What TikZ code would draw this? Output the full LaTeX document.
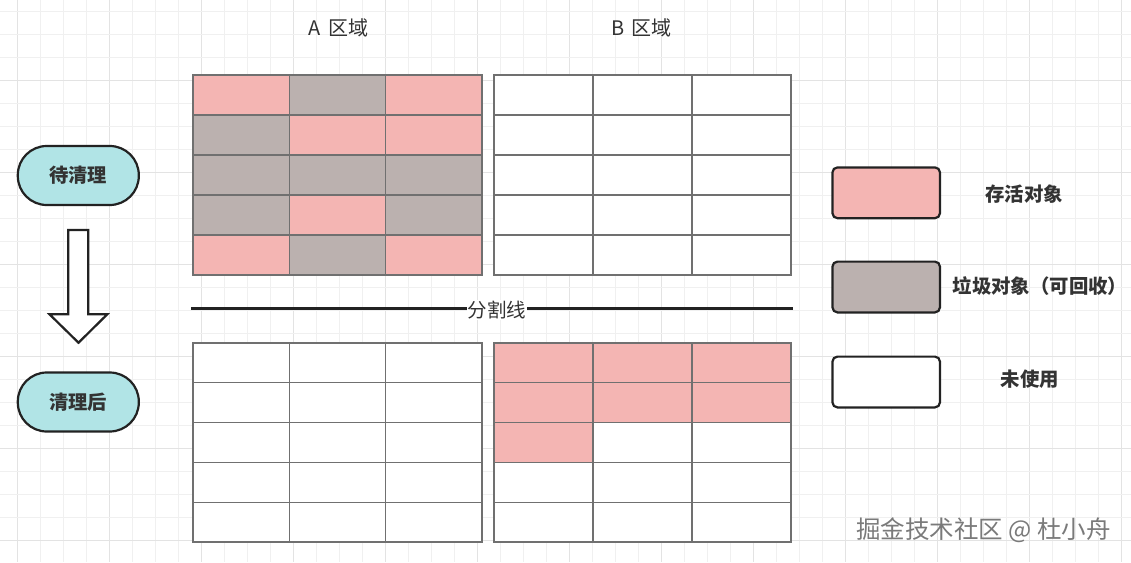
\documentclass[tikz,border=0pt]{standalone}
\usepackage{fontspec}
\newfontfamily\cjk{Noto Sans CJK SC}
\definecolor{P}{HTML}{F4B5B3}
\definecolor{G}{HTML}{BBB1AF}
\definecolor{W}{HTML}{FFFFFF}
\definecolor{cellline}{HTML}{707070}
\definecolor{dark}{HTML}{222222}
\definecolor{teal}{HTML}{B1E4E6}
\definecolor{txt}{HTML}{333333}
\definecolor{gridminor}{HTML}{F0F0F0}
\definecolor{gridmajor}{HTML}{E3E3E3}
\tikzset{
  cellA/.style={draw=cellline, line width=1.3pt, minimum width=96.33pt, minimum height=40pt, inner sep=0pt, outer sep=0pt},
  cellB/.style={draw=cellline, line width=1.3pt, minimum width=99pt, minimum height=40pt, inner sep=0pt, outer sep=0pt},
  cellAb/.style={cellA, minimum height=39.8pt},
  cellBb/.style={cellB, minimum height=39.8pt},
  pill/.style={draw=dark, line width=2.2pt, fill=teal, rounded corners=29pt, minimum width=121pt, minimum height=59pt, font=\cjk\bfseries\fontsize{19.3pt}{21pt}\selectfont, text=txt},
  legbox/.style={draw=dark, line width=2.2pt, rounded corners=5pt, minimum width=107.5pt, minimum height=50.8pt, inner sep=0pt},
  legtext/.style={font=\cjk\bfseries\fontsize{19.4pt}{21pt}\selectfont, text=txt},
  title/.style={font=\cjk\fontsize{20pt}{22pt}\selectfont, text=txt},
  blockarrow/.style={draw=dark, line width=2.2pt, fill=white, line join=miter},
}
\begin{document}
\begin{tikzpicture}[x=1pt,y=-1pt]
\useasboundingbox (0,0) rectangle (1131,562);
\fill[white] (0,0) rectangle (1131,562);
% background grid
\foreach \i in {0,...,48} {
  \pgfmathsetmacro{\xx}{17.3+23*\i}
  \pgfmathtruncatemacro{\m}{mod(\i,4)}
  \ifnum\m=0 \draw[gridmajor, line width=0.9pt] (\xx,0) -- (\xx,562);
  \else \draw[gridminor, line width=0.9pt] (\xx,0) -- (\xx,562); \fi
}
\foreach \i in {0,...,24} {
  \pgfmathsetmacro{\yy}{11.7+23*\i}
  \pgfmathtruncatemacro{\m}{mod(\i+1,4)}
  \ifnum\m=0 \draw[gridmajor, line width=0.9pt] (0,\yy) -- (1131,\yy);
  \else \draw[gridminor, line width=0.9pt] (0,\yy) -- (1131,\yy); \fi
}
% titles
\node[title] (tA) at (338.5,27.5) {A\kern7pt 区域};
\node[title] (tB) at (641.5,27.5) {B\kern7pt 区域};
% A top grid
\foreach \row/\lst [count=\r] in {1/{P,G,P},2/{G,P,P},3/{G,G,G},4/{G,P,G},5/{P,G,P}} {
  \foreach \col [count=\c] in \lst {
    \node[cellA, fill=\col] (at-\r-\c) at ({193+96.33*(\c-0.5)},{75+40*(\r-0.5)}) {};
  }
}
% B top grid
\foreach \r in {1,...,5} {
  \foreach \c in {1,2,3} {
    \node[cellB, fill=W] (bt-\r-\c) at ({494+99*(\c-0.5)},{75+40*(\r-0.5)}) {};
  }
}
% A bottom grid
\foreach \r in {1,...,5} {
  \foreach \c in {1,2,3} {
    \node[cellAb, fill=W] (ab-\r-\c) at ({193+96.33*(\c-0.5)},{343+39.8*(\r-0.5)}) {};
  }
}
% B bottom grid
\foreach \row/\lst [count=\r] in {1/{P,P,P},2/{P,P,P},3/{P,W,W},4/{W,W,W},5/{W,W,W}} {
  \foreach \col [count=\c] in \lst {
    \node[cellBb, fill=\col] (bb-\r-\c) at ({494+99*(\c-0.5)},{343+39.8*(\r-0.5)}) {};
  }
}
% separator
\coordinate (sepL) at (191,308.3);
\coordinate (sepR) at (793,308.3);
\draw[dark, line width=2.4pt] (sepL) -- (sepR)
  node[pos=0.5083, fill=white, inner sep=1pt, yshift=-2pt, font=\cjk\fontsize{19.5pt}{21pt}\selectfont, text=txt] (septext) {分割线};
% left pills
\node[pill] (before) at (78.3,175.5) {待清理};
\node[pill] (after) at (78.3,402) {清理后};
% block arrow
\draw[blockarrow] (68.3,230) -- (88.3,230) -- (88.3,314.3) -- (107.3,314.3) -- (78.5,342.7) -- (49.5,314.3) -- (68.3,314.3) -- cycle;
% legend
\node[legbox, fill=P] (legP) at (886.2,192.8) {};
\node[legbox, fill=G] (legG) at (886.2,287) {};
\node[legbox, fill=W] (legW) at (886.2,382) {};
\node[legtext] (legPt) at (1024,194.5) {存活对象};
\node[legtext] (legGt) at (1040,286.5) {垃圾对象（可回收）};
\node[legtext] (legWt) at (1030,379) {未使用};
% watermark
\node[font=\cjk\fontsize{24.5pt}{26pt}\selectfont, text=black!52] (wm) at (983.5,530.5) {掘金技术社区 @ 杜小舟};
\end{tikzpicture}
\end{document}
